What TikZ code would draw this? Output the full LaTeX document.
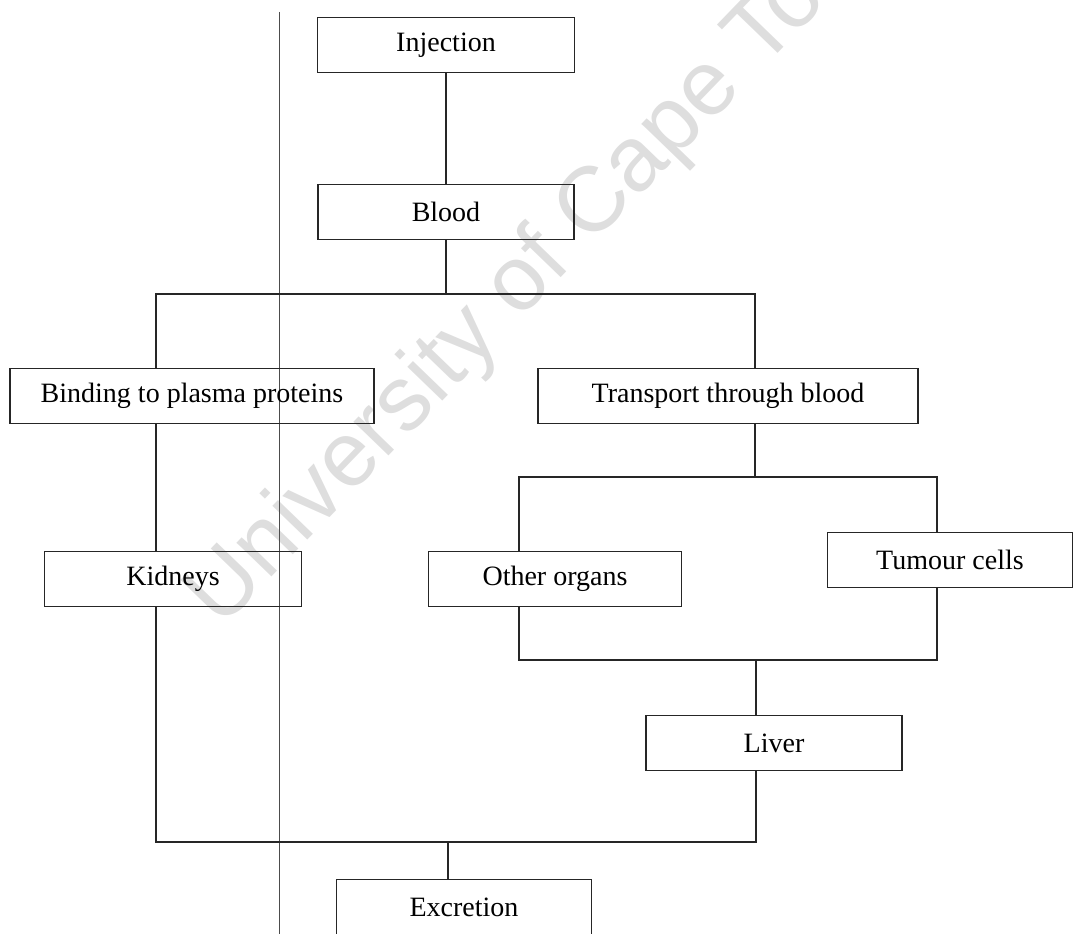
\documentclass[tikz,border=0pt]{standalone}
\usepackage{fontspec}
\setmainfont{Liberation Serif}
\newfontfamily\wmfont{Liberation Sans}
\usetikzlibrary{calc}

\tikzset{
  stagebox/.style = {draw=black!85, line width=1.2pt, minimum height=55pt,
                     inner sep=0pt, font=\fontsize{28}{33}\selectfont},
  link/.style     = {draw=black!85, line width=1.2pt},
  scanline/.style = {draw=black!70, line width=0.9pt},
}

\begin{document}
\begin{tikzpicture}[x=1pt,y=-1pt]
  \useasboundingbox (0,0) rectangle (1074,934);

  % watermark
  \node[rotate=46, text=black!13, font=\wmfont\fontsize{92}{92}\selectfont]
    (mark) at (549,256) {University of Cape Town};

  % stray scan line
  \coordinate (scantop) at (279,12);
  \coordinate (scanbot) at (279,934);
  \draw[scanline] (scantop) -- (scanbot);

  % stages
  \node[stagebox, minimum width=257pt] (injection) at (446,45)  {Injection};
  \node[stagebox, minimum width=256pt] (blood)     at (446,212) {Blood};
  \node[stagebox, minimum width=364pt] (binding)   at (192,396) {Binding to plasma proteins};
  \node[stagebox, minimum width=380pt] (transport) at (728,396) {Transport through blood};
  \node[stagebox, minimum width=257pt] (kidneys)   at (173,579) {Kidneys};
  \node[stagebox, minimum width=253pt] (organs)    at (555,579) {Other organs};
  \node[stagebox, minimum width=245pt] (tumour)    at (950,560) {Tumour cells};
  \node[stagebox, minimum width=256pt] (liver)     at (774,743) {Liver};
  \node[stagebox, minimum width=255pt] (excretion) at (464,907) {Excretion};

  % junctions
  \coordinate (j1) at (156,294);
  \coordinate (j2) at (755,294);
  \coordinate (j3) at (519,477);
  \coordinate (j4) at (937,477);
  \coordinate (j5) at (519,660);
  \coordinate (j6) at (937,660);
  \coordinate (j7) at (756,660);
  \coordinate (j8) at (156,842);
  \coordinate (j9) at (756,842);
  \coordinate (j10) at (448,842);

  % top of the tree
  \draw[link] (injection.south) -- (blood.north);
  \draw[link] (blood.south) -- (blood.south |- j1);
  \draw[link] (binding.north -| j1) -- (j1) -- (j2) -- (transport.north -| j2);

  % left branch
  \draw[link] (binding.south -| j1) -- (kidneys.north -| j1);

  % right branch
  \draw[link] (transport.south -| j2) -- (j2 |- j3);
  \draw[link] (organs.north -| j3) -- (j3) -- (j4) -- (tumour.north -| j4);
  \draw[link] (organs.south -| j5) -- (j5) -- (j6) -- (tumour.south -| j6);
  \draw[link] (j7) -- (liver.north -| j7);

  % to excretion
  \draw[link] (kidneys.south -| j8) -- (j8) -- (j9) -- (liver.south -| j9);
  \draw[link] (j10) -- (excretion.north -| j10);
\end{tikzpicture}
\end{document}
